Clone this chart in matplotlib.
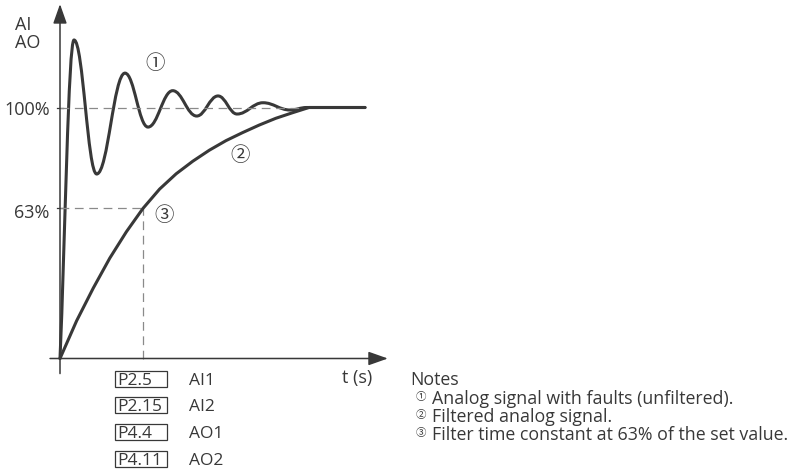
import matplotlib
matplotlib.use("Agg")
from matplotlib import pyplot as plt
from matplotlib.path import Path
from matplotlib.patches import PathPatch, Rectangle

plt.rcParams['font.family'] = ['Open Sans', 'DejaVu Sans']

# values: time in units of the filter time constant, signal in %
osc_t = [0, 0.169, 0.442, 0.783, 1.060, 1.358, 1.647, 1.904, 2.133, 2.446, 2.771, 2.972]
osc_v = [0, 126.9, 73.5, 113.7, 92.2, 106.7, 96.6, 104.6, 97.4, 101.9, 99.0, 100]

filt_t = [0, 0.2, 0.4, 0.6, 0.8, 1.0, 1.2, 1.4, 1.6, 1.8, 2.0, 2.2, 2.4, 2.6, 2.8, 3.0]
filt_v = [0, 15, 28, 40, 50.5, 59.8, 67.5, 73.6, 78.6, 83.0, 86.8, 90.0, 93.0, 95.7, 97.9, 100]

t_end = 3.675
set_level = 100
tau = 1.0
tau_level = 59.8

params = ['P2.5', 'P2.15', 'P4.4', 'P4.11']
signals = ['AI1', 'AI2', 'AO1', 'AO2']
notes = ['Analog signal with faults (unfiltered).',
         'Filtered analog signal.',
         'Filter time constant at 63% of the set value.']
marks = ['①', '②', '③']

ink = '#383838'
W, H = 800, 470

fig = plt.figure(figsize=(8, 4.7), dpi=100)
ax = fig.add_axes([0, 0, 1, 1])
ax.set_xlim(-60 / 83, 740 / 83)
ax.set_ylim(-111.5 / 2.51, 358.5 / 2.51)
ax.axis('off')


def fx(px):
    return px / W


def fy(py):
    return 1 - py / H


# axes with arrows
arrow = dict(arrowstyle='-|>,head_length=0.85,head_width=0.3', mutation_scale=14,
             lw=1.1, color=ink, shrinkA=0, shrinkB=0)
ax.annotate('', xy=(0, 141.2), xytext=(0, -6), arrowprops=arrow)
ax.annotate('', xy=(3.95, 0), xytext=(-0.12, 0), arrowprops=arrow)

# small ticks on the y axis
for lvl in (set_level, tau_level):
    ax.plot([-0.04, 0.04], [lvl, lvl], color=ink, lw=0.9)

# dashed guides
dash = dict(color='#8a8a8a', lw=0.9, ls=(0, (7, 4.5)))
ax.plot([0, osc_t[-1]], [set_level, set_level], **dash)
ax.plot([0, tau], [tau_level, tau_level], **dash)
ax.plot([tau, tau], [0, tau_level], **dash)

# unfiltered signal: smooth bezier segments between read extrema
k = 0.4
verts = [(osc_t[0], osc_v[0])]
codes = [Path.MOVETO]
for i in range(1, len(osc_t)):
    x0, y0, x1, y1 = osc_t[i - 1], osc_v[i - 1], osc_t[i], osc_v[i]
    dx = x1 - x0
    if i == 1:
        c1 = (x0 + 0.35 * dx, y0 + 0.35 * (y1 - y0))
    else:
        c1 = (x0 + k * dx, y0)
    c2 = (x1 - k * dx, y1)
    verts += [c1, c2, (x1, y1)]
    codes += [Path.CURVE4] * 3
verts.append((t_end, set_level))
codes.append(Path.LINETO)
ax.add_patch(PathPatch(Path(verts, codes), fill=False, ec=ink, lw=2.2,
                       capstyle='round', joinstyle='round'))

# filtered signal
ax.plot(filt_t + [t_end], filt_v + [set_level], color=ink, lw=2.2,
        solid_capstyle='round', solid_joinstyle='round')

# circled markers on the chart
cj = ['Noto Sans CJK JP', 'DejaVu Sans']
ax.text(1.145, 117.7, marks[0], fontsize=14, family=cj, color=ink, ha='center', va='center')
ax.text(2.169, 80.7, marks[1], fontsize=14, family=cj, color=ink, ha='center', va='center')
ax.text(1.253, 56.8, marks[2], fontsize=14, family=cj, color=ink, ha='center', va='center')

# axis labels
fs = 13
fig.text(fx(15), fy(30), 'AI', fontsize=fs, color=ink, ha='left', va='baseline')
fig.text(fx(15), fy(48.5), 'AO', fontsize=fs, color=ink, ha='left', va='baseline')
fig.text(fx(50), fy(115), '100%', fontsize=fs, color=ink, ha='right', va='baseline')
fig.text(fx(49.5), fy(217.5), '63%', fontsize=fs, color=ink, ha='right', va='baseline')
fig.text(fx(341.5), fy(383.3), 't (s)', fontsize=fs, color=ink, ha='left', va='baseline')

# parameter boxes
row0, step = 378.7, 26.7
for i, (p, s) in enumerate(zip(params, signals)):
    yc = row0 + i * step
    fig.add_artist(Rectangle((fx(115), fy(yc + 8)), 52 / W, 16 / H,
                             transform=fig.transFigure, fill=False, ec=ink, lw=0.9))
    fig.text(fx(117.5), fy(yc + 6), p, fontsize=12.5, color=ink, ha='left', va='baseline')
    fig.text(fx(189), fy(yc + 6), s, fontsize=12.5, color=ink, ha='left', va='baseline')

# notes
fig.text(fx(410), fy(385), 'Notes', fontsize=12.8, color=ink, ha='left', va='baseline')
for i, (m, n) in enumerate(zip(marks, notes)):
    base = 404.3 + i * 17.9
    fig.text(fx(421), fy(base - 7.5), m, fontsize=7.5, family=cj, color=ink, ha='center', va='center')
    fig.text(fx(432.5), fy(base), n, fontsize=12.8, color=ink, ha='left', va='baseline')

fig.savefig('out.png', dpi=100)
